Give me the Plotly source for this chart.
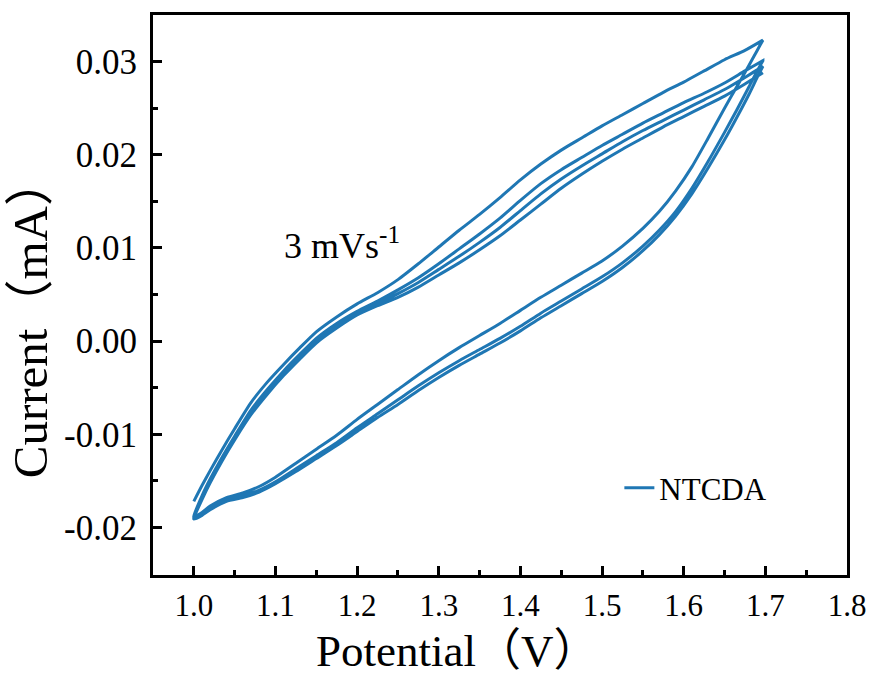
import plotly.graph_objects as go

# Potential grids (V)
x_forward = [1.000, 1.010, 1.020, 1.035, 1.050, 1.070, 1.090, 1.110, 1.130, 1.150, 1.175,
             1.200, 1.225, 1.250, 1.275, 1.300, 1.325, 1.350, 1.375, 1.400, 1.425, 1.450,
             1.475, 1.500, 1.525, 1.550, 1.575, 1.600, 1.625, 1.650, 1.675, 1.697]
x_reverse = [1.697, 1.690, 1.680, 1.665, 1.650, 1.630, 1.610, 1.590, 1.570, 1.550, 1.525,
             1.500, 1.475, 1.450, 1.425, 1.400, 1.375, 1.350, 1.325, 1.300, 1.275, 1.250,
             1.225, 1.200, 1.175, 1.150, 1.125, 1.100, 1.080, 1.060, 1.040, 1.020, 1.010, 1.000]

# Current (mA), forward sweeps
up1 = [-0.0172, -0.0155, -0.0139, -0.0116, -0.0094, -0.0066, -0.0044, -0.0025, -0.0007, 0.0010, 0.0026,
       0.0040, 0.0052, 0.0066, 0.0083, 0.0101, 0.0119, 0.0136, 0.0154, 0.0173, 0.0190, 0.0205,
       0.0218, 0.0231, 0.0243, 0.0255, 0.0267, 0.0278, 0.0290, 0.0302, 0.0312, 0.0323]
up2 = [-0.0188, -0.0166, -0.0148, -0.0124, -0.0102, -0.0074, -0.0052, -0.0032, -0.0014, 0.0003, 0.0019,
       0.0032, 0.0043, 0.0055, 0.0068, 0.0083, 0.0099, 0.0115, 0.0132, 0.0151, 0.0169, 0.0184,
       0.0197, 0.0210, 0.0222, 0.0234, 0.0245, 0.0256, 0.0266, 0.0277, 0.0290, 0.0301]
up3 = [-0.0189, -0.0168, -0.0150, -0.0126, -0.0104, -0.0077, -0.0055, -0.0035, -0.0017, 0.0000, 0.0016,
       0.0030, 0.0040, 0.0051, 0.0063, 0.0077, 0.0091, 0.0106, 0.0122, 0.0140, 0.0158, 0.0174,
       0.0188, 0.0201, 0.0214, 0.0226, 0.0237, 0.0248, 0.0259, 0.0270, 0.0283, 0.0295]
up4 = [-0.0190, -0.0170, -0.0152, -0.0128, -0.0106, -0.0079, -0.0057, -0.0037, -0.0019, -0.0002, 0.0014,
       0.0028, 0.0038, 0.0047, 0.0058, 0.0071, 0.0084, 0.0098, 0.0113, 0.0130, 0.0147, 0.0164,
       0.0179, 0.0193, 0.0206, 0.0218, 0.0230, 0.0241, 0.0252, 0.0263, 0.0276, 0.0288]

# Current (mA), reverse sweeps
down1 = [0.0323, 0.0312, 0.0296, 0.0273, 0.0250, 0.0218, 0.0187, 0.0161, 0.0139, 0.0121, 0.0102,
         0.0086, 0.0073, 0.0060, 0.0047, 0.0033, 0.0019, 0.0006, -0.0007, -0.0021, -0.0036, -0.0052,
         -0.0068, -0.0084, -0.0101, -0.0116, -0.0131, -0.0146, -0.0156, -0.0163, -0.0168, -0.0177, -0.0184, -0.0189]
down2 = [0.0301, 0.0290, 0.0273, 0.0248, 0.0224, 0.0193, 0.0164, 0.0139, 0.0119, 0.0102, 0.0084,
         0.0069, 0.0056, 0.0043, 0.0030, 0.0016, 0.0003, -0.0009, -0.0021, -0.0034, -0.0048, -0.0063,
         -0.0078, -0.0093, -0.0109, -0.0123, -0.0137, -0.0151, -0.0160, -0.0166, -0.0170, -0.0179, -0.0186, -0.0190]
down3 = [0.0295, 0.0283, 0.0265, 0.0240, 0.0216, 0.0186, 0.0158, 0.0134, 0.0114, 0.0097, 0.0079,
         0.0064, 0.0051, 0.0038, 0.0025, 0.0011, -0.0002, -0.0014, -0.0026, -0.0039, -0.0053, -0.0068,
         -0.0082, -0.0097, -0.0112, -0.0126, -0.0140, -0.0153, -0.0162, -0.0168, -0.0172, -0.0181, -0.0187, -0.0191]

x_tick_vals = [1.0, 1.1, 1.2, 1.3, 1.4, 1.5, 1.6, 1.7, 1.8]
x_tick_text = ["1.0", "1.1", "1.2", "1.3", "1.4", "1.5", "1.6", "1.7", "1.8"]
y_tick_vals = [-0.02, -0.01, 0.0, 0.01, 0.02, 0.03]
y_tick_text = ["-0.02", "-0.01", "0.00", "0.01", "0.02", "0.03"]

potential = x_forward + x_reverse + x_forward + x_reverse + x_forward + x_reverse + x_forward
current = up1 + down1 + up2 + down2 + up3 + down3 + up4

SERIF = "Liberation Serif, Times New Roman, Noto Sans CJK SC, serif"
BLUE = "#1f77b4"

fig = go.Figure()
fig.add_trace(go.Scatter(x=potential, y=current, mode="lines", name="NTCDA",
                         line=dict(color=BLUE, width=3, shape="spline", smoothing=0.6)))

axis_common = dict(
    showline=True, linewidth=3, linecolor="black", mirror=True,
    ticks="inside", ticklen=9, tickwidth=3, tickcolor="black",
    showgrid=False, zeroline=False,
)

fig.update_xaxes(range=[0.95, 1.8], tickvals=x_tick_vals, ticktext=x_tick_text,
                 tickfont=dict(family=SERIF, size=31, color="black"),
                 ticklabelstandoff=1,
                 minor=dict(ticks="inside", ticklen=5, tickwidth=3, tickcolor="black", dtick=0.05,
                            tick0=0.95, showgrid=False),
                 **axis_common)
fig.update_yaxes(range=[-0.0251, 0.035], tickvals=y_tick_vals, ticktext=y_tick_text,
                 tickfont=dict(family=SERIF, size=35, color="black"),
                 ticklabelstandoff=6,
                 minor=dict(ticks="inside", ticklen=5, tickwidth=3, tickcolor="black", dtick=0.005,
                            tick0=0.0, showgrid=False),
                 **axis_common)

fig.add_annotation(text="Potential（V）", xref="paper", yref="paper", x=0.438, y=-0.135,
                   xanchor="center", yanchor="middle", showarrow=False,
                   font=dict(family=SERIF, size=45, color="black"))
fig.add_annotation(text="Current（mA）", xref="paper", yref="paper", x=-0.176, y=0.46,
                   xanchor="center", yanchor="middle", textangle=-90, showarrow=False,
                   font=dict(family=SERIF, size=49, color="black"))
fig.add_annotation(text="3 mVs<sup>-1</sup>", xref="x", yref="y", x=1.182, y=0.0105,
                   xanchor="center", yanchor="middle", showarrow=False,
                   font=dict(family=SERIF, size=36, color="black"))

fig.update_layout(
    width=878, height=677,
    margin=dict(l=153, r=27, t=12, b=102),
    paper_bgcolor="white", plot_bgcolor="white",
    showlegend=True,
    legend=dict(x=0.672, y=0.155, xanchor="left", yanchor="middle",
                bgcolor="rgba(0,0,0,0)", borderwidth=0,
                font=dict(family=SERIF, size=31, color="black")),
)

fig.write_html("out.html")
